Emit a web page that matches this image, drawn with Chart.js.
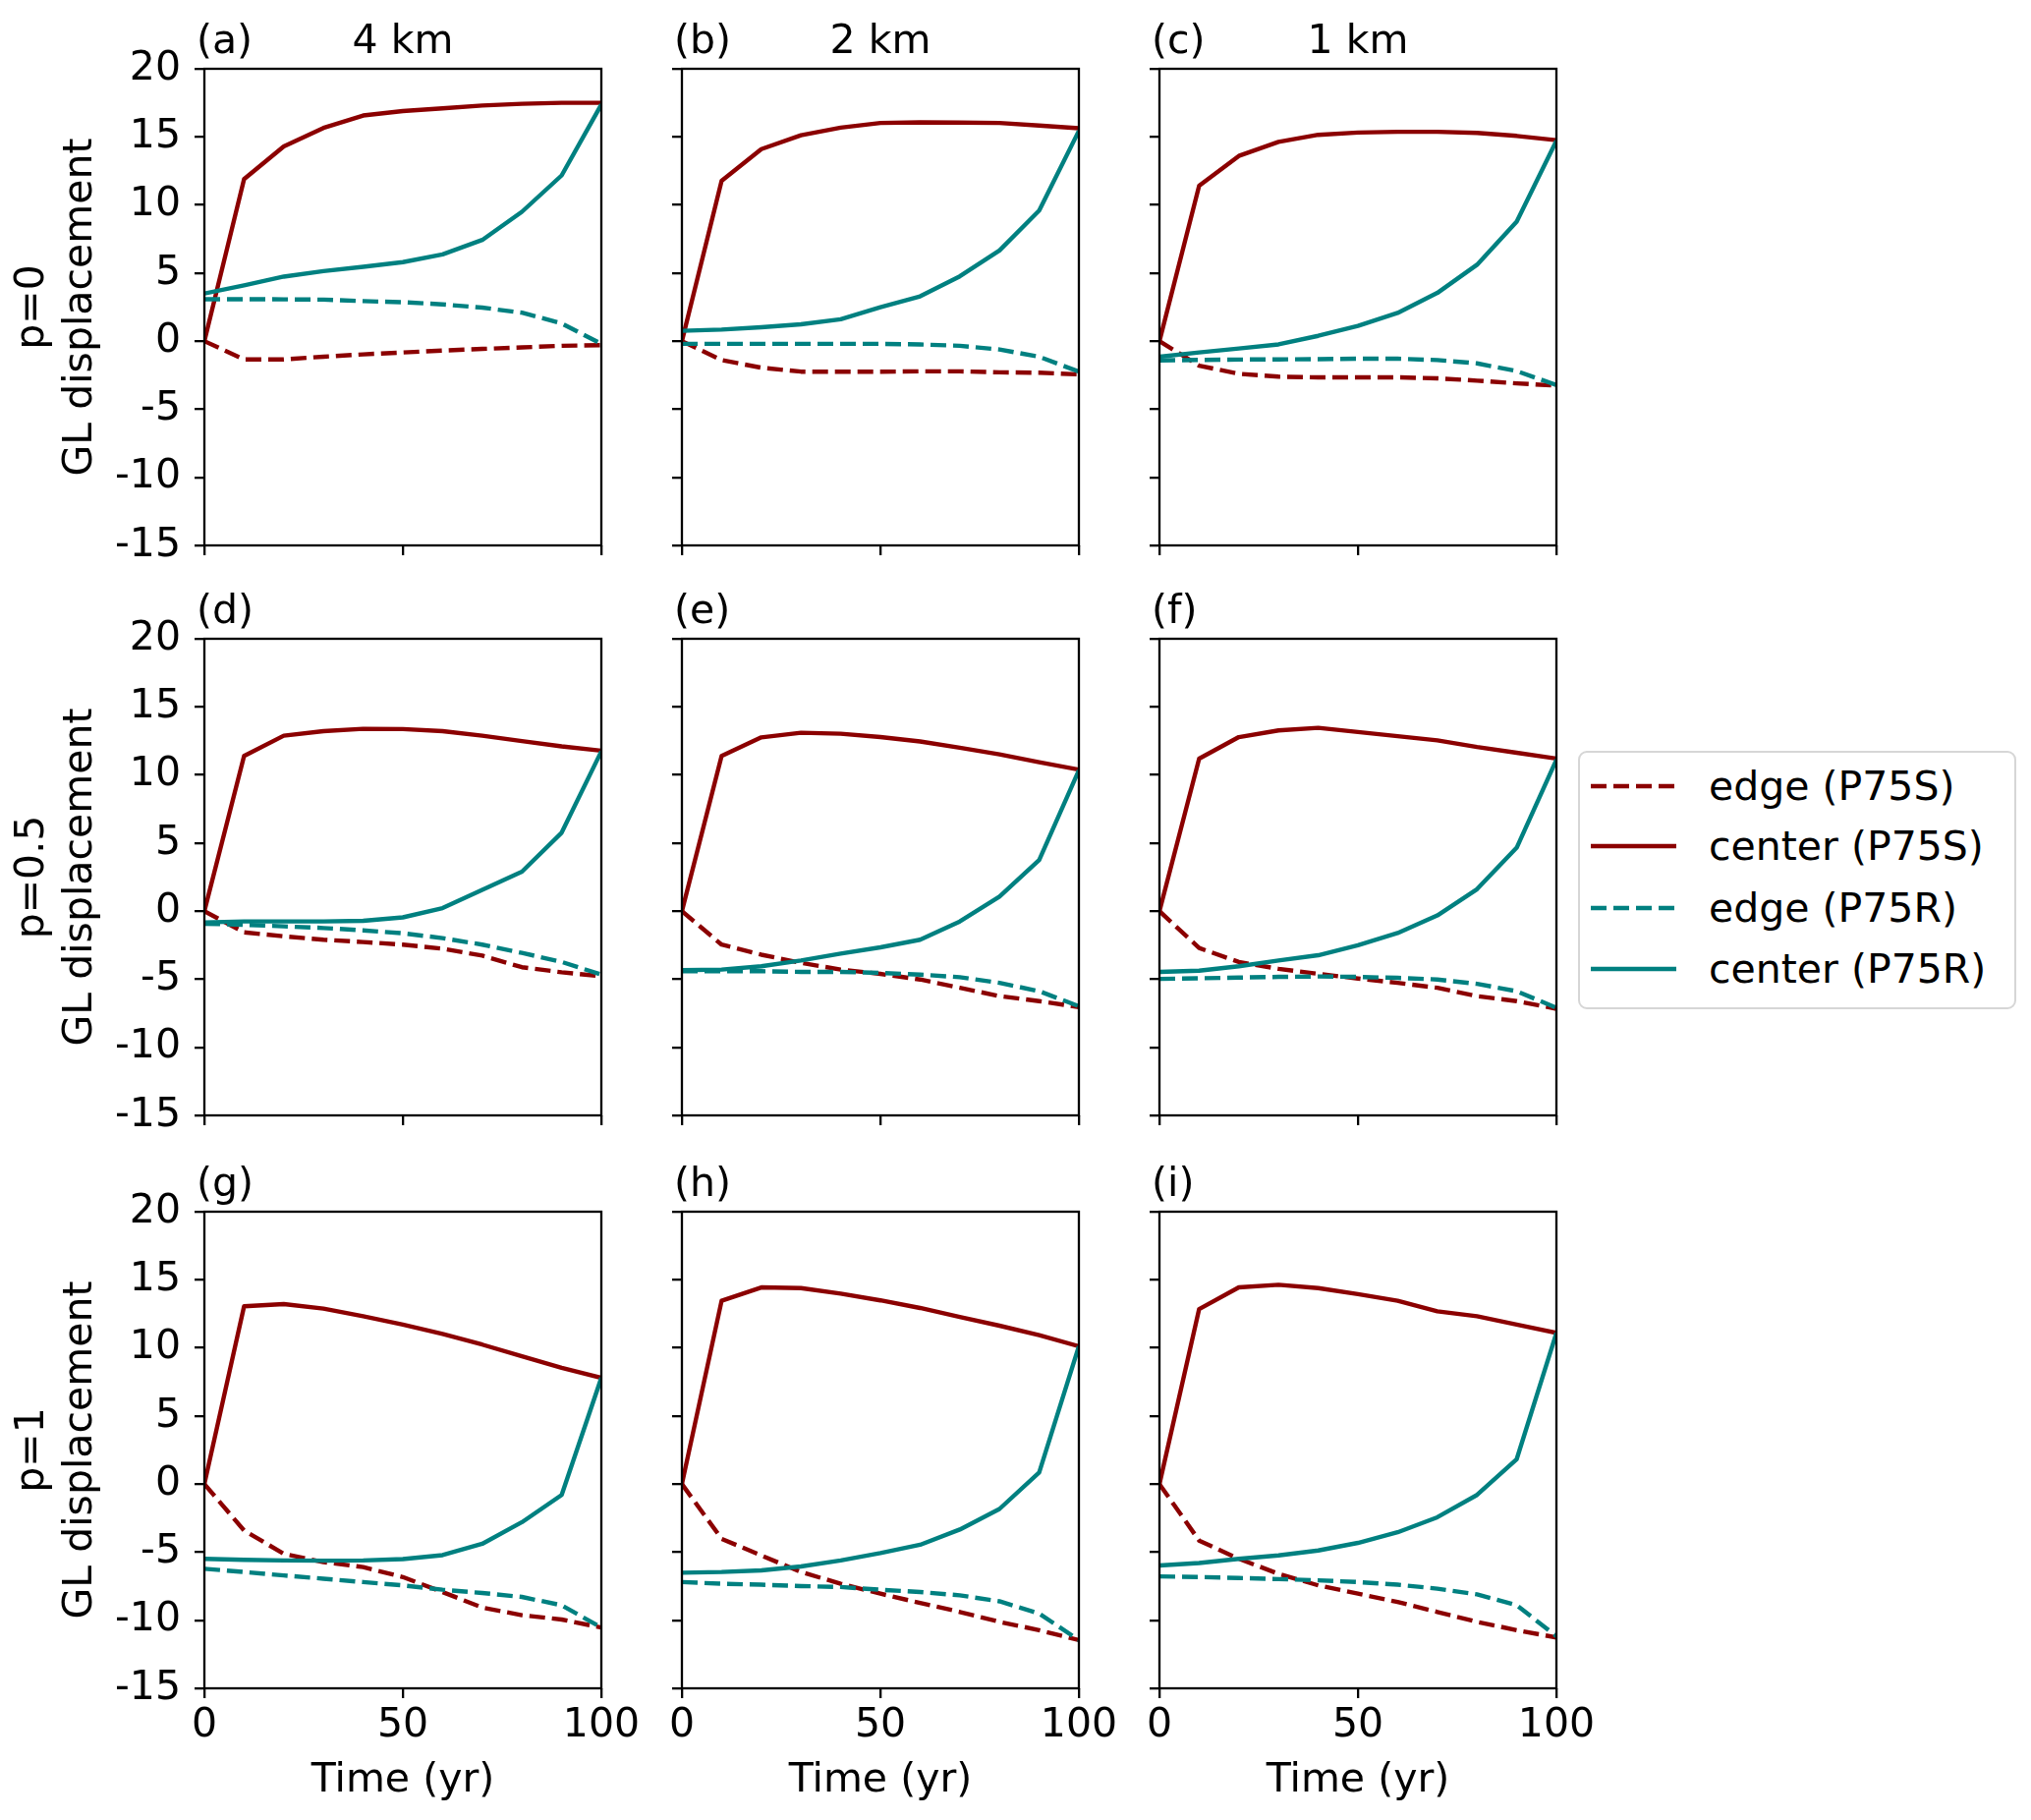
<!DOCTYPE html>
<html>
<head>
<meta charset="utf-8">
<script src="https://cdn.jsdelivr.net/npm/chart.js@4.4.1/dist/chart.umd.min.js"></script>
<style>
html,body{margin:0;padding:0;background:#fff;}
#fig{position:relative;width:2067px;height:1852px;background:#fff;overflow:hidden;font-family:"DejaVu Sans",sans-serif;color:#000;}
#fig canvas{position:absolute;}
.lbl{position:absolute;font-size:41px;line-height:41px;white-space:nowrap;}
#legend{position:absolute;left:1606px;top:764px;width:446px;height:263px;box-sizing:border-box;border:2px solid #d6d6d6;border-radius:9px;background:rgba(255,255,255,0.8);}
#legend svg{position:absolute;left:0;top:0;}
#legend .lt{position:absolute;left:131px;font-size:41px;line-height:41px;white-space:nowrap;}
</style>
</head>
<body>
<div id="fig"><div id="legend"></div></div>
<script>
// ---------------- data ----------------
const years = [0, 10, 20, 30, 40, 50, 60, 70, 80, 90, 100];
const xTicks = [0, 50, 100];
const yTicks = [-15, -10, -5, 0, 5, 10, 15, 20];
const panelLabels = ['(a)', '(b)', '(c)', '(d)', '(e)', '(f)', '(g)', '(h)', '(i)'];
const columnTitles = ['4 km', '2 km', '1 km'];
const rowTitles = ['p=0', 'p=0.5', 'p=1'];
const yAxisName = 'GL displacement';
const xAxisName = 'Time (yr)';
const seriesNames = ['edge (P75S)', 'center (P75S)', 'edge (P75R)', 'center (P75R)'];

// (a) p=0, 4 km
const edgeS_a   = [0, -1.34, -1.34, -1.14, -0.97, -0.83, -0.69, -0.57, -0.46, -0.34, -0.29];
const centerS_a = [0, 11.9, 14.3, 15.66, 16.57, 16.9, 17.1, 17.3, 17.43, 17.5, 17.5];
const edgeR_a   = [3.08, 3.08, 3.07, 3.05, 2.94, 2.86, 2.7, 2.46, 2.09, 1.3, -0.2];
const centerR_a = [3.5, 4.1, 4.74, 5.14, 5.46, 5.8, 6.37, 7.43, 9.5, 12.17, 17.37];
// (b) p=0, 2 km
const edgeS_b   = [0, -1.39, -1.95, -2.24, -2.24, -2.24, -2.22, -2.22, -2.29, -2.32, -2.44];
const centerS_b = [0, 11.78, 14.1, 15.12, 15.68, 16.02, 16.07, 16.05, 16.02, 15.83, 15.63];
const edgeR_b   = [-0.2, -0.2, -0.2, -0.2, -0.2, -0.2, -0.24, -0.34, -0.61, -1.15, -2.24];
const centerR_b = [0.76, 0.85, 1.02, 1.24, 1.61, 2.49, 3.29, 4.76, 6.66, 9.59, 15.44];
// (c) p=0, 1 km
const edgeS_c   = [0, -1.8, -2.4, -2.61, -2.66, -2.66, -2.66, -2.73, -2.9, -3.1, -3.27];
const centerS_c = [0, 11.41, 13.6, 14.63, 15.15, 15.32, 15.37, 15.37, 15.29, 15.07, 14.76];
const edgeR_c   = [-1.41, -1.38, -1.35, -1.34, -1.32, -1.29, -1.29, -1.39, -1.63, -2.2, -3.22];
const centerR_c = [-1.15, -0.83, -0.54, -0.24, 0.39, 1.12, 2.07, 3.54, 5.61, 8.78, 14.71];
// (d) p=0.5, 4 km
const edgeS_d   = [0, -1.56, -1.85, -2.1, -2.27, -2.46, -2.76, -3.27, -4.12, -4.49, -4.78];
const centerS_d = [0, 11.39, 12.88, 13.22, 13.39, 13.37, 13.22, 12.88, 12.49, 12.1, 11.78];
const edgeR_d   = [-0.93, -1.0, -1.12, -1.24, -1.41, -1.63, -1.98, -2.46, -3.07, -3.73, -4.66];
const centerR_d = [-0.83, -0.76, -0.76, -0.76, -0.71, -0.46, 0.22, 1.56, 2.9, 5.76, 11.73];
// (e) p=0.5, 2 km
const edgeS_e   = [0, -2.46, -3.2, -3.8, -4.29, -4.61, -5.02, -5.63, -6.24, -6.61, -7.05];
const centerS_e = [0, 11.39, 12.76, 13.1, 13.03, 12.78, 12.46, 12.0, 11.51, 10.93, 10.39];
const edgeR_e   = [-4.41, -4.41, -4.41, -4.46, -4.46, -4.54, -4.66, -4.85, -5.27, -5.88, -6.98];
const centerR_e = [-4.34, -4.29, -4.05, -3.63, -3.12, -2.66, -2.1, -0.76, 1.07, 3.76, 10.34];
// (f) p=0.5, 1 km
const edgeS_f   = [0, -2.71, -3.73, -4.24, -4.61, -4.95, -5.27, -5.63, -6.24, -6.61, -7.17];
const centerS_f = [0, 11.2, 12.78, 13.27, 13.46, 13.15, 12.85, 12.54, 12.05, 11.63, 11.2];
const edgeR_f   = [-4.98, -4.93, -4.88, -4.83, -4.8, -4.83, -4.9, -5.02, -5.34, -5.88, -7.1];
const centerR_f = [-4.46, -4.37, -4.05, -3.63, -3.24, -2.51, -1.61, -0.32, 1.61, 4.66, 11.12];
// (g) p=1, 4 km
const edgeS_g   = [0, -3.41, -5.12, -5.73, -6.1, -6.83, -7.93, -9.07, -9.63, -9.95, -10.54];
const centerS_g = [0, 13.05, 13.22, 12.88, 12.32, 11.71, 11.02, 10.24, 9.39, 8.54, 7.8];
const edgeR_g   = [-6.22, -6.46, -6.71, -6.95, -7.2, -7.44, -7.76, -8.0, -8.29, -8.9, -10.54];
const centerR_g = [-5.49, -5.56, -5.61, -5.63, -5.61, -5.51, -5.22, -4.39, -2.8, -0.8, 7.8];
// (h) p=1, 2 km
const edgeS_h   = [0, -4.02, -5.24, -6.46, -7.32, -8.05, -8.73, -9.39, -10.12, -10.73, -11.46];
const centerS_h = [0, 13.46, 14.44, 14.39, 13.98, 13.49, 12.93, 12.27, 11.63, 10.93, 10.12];
const edgeR_h   = [-7.2, -7.32, -7.39, -7.49, -7.56, -7.76, -7.93, -8.17, -8.61, -9.51, -11.46];
const centerR_h = [-6.51, -6.46, -6.34, -6.05, -5.61, -5.07, -4.46, -3.34, -1.83, 0.85, 10.12];
// (i) p=1, 1 km
const edgeS_i   = [0, -4.15, -5.49, -6.59, -7.44, -8.05, -8.66, -9.39, -10.12, -10.73, -11.27];
const centerS_i = [0, 12.85, 14.44, 14.63, 14.39, 13.95, 13.46, 12.68, 12.32, 11.71, 11.1];
const edgeR_i   = [-6.78, -6.83, -6.9, -6.98, -7.07, -7.2, -7.39, -7.68, -8.1, -8.9, -11.17];
const centerR_i = [-5.98, -5.8, -5.49, -5.24, -4.88, -4.32, -3.54, -2.44, -0.8, 1.83, 11.1];

const panels = [
  [edgeS_a, centerS_a, edgeR_a, centerR_a],
  [edgeS_b, centerS_b, edgeR_b, centerR_b],
  [edgeS_c, centerS_c, edgeR_c, centerR_c],
  [edgeS_d, centerS_d, edgeR_d, centerR_d],
  [edgeS_e, centerS_e, edgeR_e, centerR_e],
  [edgeS_f, centerS_f, edgeR_f, centerR_f],
  [edgeS_g, centerS_g, edgeR_g, centerR_g],
  [edgeS_h, centerS_h, edgeR_h, centerR_h],
  [edgeS_i, centerS_i, edgeR_i, centerR_i]
];

// ---------------- styles / layout ----------------
const RED = '#8b0000', TEAL = '#008080';
const seriesStyle = [
  {color: RED,  dash: [16, 7], order: 4},
  {color: RED,  dash: [],      order: 3},
  {color: TEAL, dash: [16, 7], order: 2},
  {color: TEAL, dash: [],      order: 1}
];
const FONT = '"DejaVu Sans", sans-serif';
const FS = 41;
const LW = 4.4;
const AXLW = 2.3;
const colLeft = [208, 694, 1180];
const PW = 404;
const rowTop = [70, 650, 1233];
const PH = 485;
const FIG_H = 1852;

const fig = document.getElementById('fig');

const framePlugin = {
  id: 'frame',
  afterDatasetsDraw(chart) {
    const a = chart.chartArea, ctx = chart.ctx;
    ctx.save();
    ctx.strokeStyle = '#000';
    ctx.lineWidth = AXLW;
    ctx.strokeRect(a.left, a.top, a.right - a.left, a.bottom - a.top);
    ctx.restore();
  }
};

function addLabel(text, left, baseline, center) {
  const d = document.createElement('div');
  d.className = 'lbl';
  d.textContent = text;
  d.style.left = left + 'px';
  d.style.top = (baseline - 34.7) + 'px';
  if (center) d.style.transform = 'translateX(-50%)';
  fig.appendChild(d);
}

panels.forEach((series, idx) => {
  const r = Math.floor(idx / 3), c = idx % 3;
  const L = colLeft[c], T = rowTop[r], B = T + PH;
  const yW = c === 0 ? L : 40;
  const xH = r === 2 ? FIG_H - B : 40;
  const padT = 30, padR = 50;
  const W = yW + PW + padR, H = padT + PH + xH;
  const cv = document.createElement('canvas');
  cv.width = W; cv.height = H;
  cv.style.left = (L - yW) + 'px';
  cv.style.top = (T - padT) + 'px';
  cv.style.width = W + 'px';
  cv.style.height = H + 'px';
  fig.appendChild(cv);

  const datasets = series.map((vals, k) => ({
    label: seriesNames[k],
    data: years.map((t, i) => ({x: t, y: vals[i]})),
    borderColor: seriesStyle[k].color,
    backgroundColor: seriesStyle[k].color,
    borderDash: seriesStyle[k].dash,
    borderWidth: LW,
    borderJoinStyle: 'round',
    borderCapStyle: 'butt',
    pointRadius: 0,
    pointHoverRadius: 0,
    fill: false,
    tension: 0,
    order: seriesStyle[k].order
  }));

  new Chart(cv, {
    type: 'line',
    data: {datasets},
    plugins: [framePlugin],
    options: {
      responsive: false,
      animation: false,
      events: [],
      layout: {padding: {top: padT, right: padR, left: 0, bottom: 0}},
      plugins: {legend: {display: false}, tooltip: {enabled: false}, title: {display: false}},
      scales: {
        x: {
          type: 'linear', min: 0, max: 100,
          afterBuildTicks: s => { s.ticks = xTicks.map(v => ({value: v})); },
          afterFit: s => { s.height = xH; s.paddingLeft = 0; s.paddingRight = 0; },
          grid: {display: true, drawOnChartArea: false, drawTicks: true, tickLength: 10, lineWidth: AXLW, tickWidth: AXLW, tickColor: '#000', color: '#000'},
          border: {display: false},
          ticks: {color: r === 2 ? '#000' : 'rgba(0,0,0,0)', font: {family: FONT, size: FS, lineHeight: 1.2}, padding: 4, maxRotation: 0, minRotation: 0, autoSkip: false},
          title: {display: r === 2, text: xAxisName, color: '#000', font: {family: FONT, size: FS, lineHeight: 1.2}, padding: {top: 0, bottom: 15}}
        },
        y: {
          type: 'linear', min: -15, max: 20,
          afterBuildTicks: s => { s.ticks = yTicks.map(v => ({value: v})); },
          afterFit: s => { s.width = yW; s.paddingTop = 0; s.paddingBottom = 0; },
          grid: {display: true, drawOnChartArea: false, drawTicks: true, tickLength: 10, lineWidth: AXLW, tickWidth: AXLW, tickColor: '#000', color: '#000'},
          border: {display: false},
          ticks: {color: c === 0 ? '#000' : 'rgba(0,0,0,0)', font: {family: FONT, size: FS, lineHeight: 1.2}, padding: 14, autoSkip: false},
          title: {display: c === 0, text: [rowTitles[r], yAxisName], color: '#000', font: {family: FONT, size: FS, lineHeight: 1.2}, padding: {top: 9, bottom: 0}}
        }
      }
    }
  });

  addLabel(panelLabels[idx], L - 8, T - 15, false);
  if (r === 0) addLabel(columnTitles[c], L + PW / 2, T - 15, true);
});

// ---------------- legend ----------------
(function () {
  const lg = document.getElementById('legend');
  const rowsY = [36, 97, 160, 222];
  const ns = 'http://www.w3.org/2000/svg';
  const svg = document.createElementNS(ns, 'svg');
  svg.setAttribute('width', '446'); svg.setAttribute('height', '263');
  seriesNames.forEach((name, k) => {
    const y = rowsY[k] - 2;
    const ln = document.createElementNS(ns, 'line');
    ln.setAttribute('x1', '11'); ln.setAttribute('x2', '98');
    ln.setAttribute('y1', y); ln.setAttribute('y2', y);
    ln.setAttribute('stroke', seriesStyle[k].color);
    ln.setAttribute('stroke-width', LW);
    if (seriesStyle[k].dash.length) ln.setAttribute('stroke-dasharray', seriesStyle[k].dash.join(' '));
    svg.appendChild(ln);
    const t = document.createElement('div');
    t.className = 'lt';
    t.textContent = name;
    t.style.top = (rowsY[k] - 2 - 20) + 'px';
    lg.appendChild(t);
  });
  lg.appendChild(svg);
})();
</script>
</body>
</html>
